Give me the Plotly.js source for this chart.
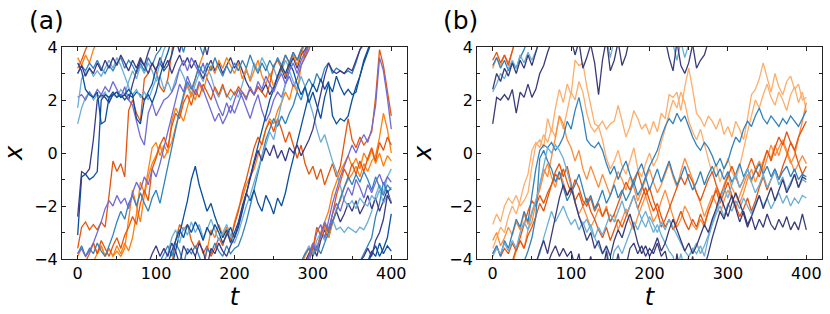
<!DOCTYPE html>
<html><head><meta charset="utf-8">
<script src="https://cdn.plot.ly/plotly-3.0.1.min.js"></script>
<style>html,body{margin:0;padding:0;background:#fff}</style>
</head><body><div id="chart" style="width:830px;height:314px"></div>
<script>
// time grid (t)
const T = [0,5,10,15,20,25,30,35,40,45,50,55,60,65,70,75,80,85,90,95,100,105,110,115,120,125,130,135,140,145,150,155,160,165,170,175,180,185,190,195,200,205,210,215,220,225,230,235,240,245,250,255,260,265,270,275,280,285,290,295,300,305,310,315,320,325,330,335,340,345,350,355,360,365,370,375,380,385,390,395,400];

// ---- panel (a): positions x read on the periodic interval [-4,4) ----
const a_orange1 = [3.6,3.3,3.7,3.4,3.9,-3.8,-3.5,-3.9,-3.6,-3.9, -3.5,-3.8,-3.4,-3.7,-3.2,-2.3,-1.1,-1.5,-0.6,0.2, 0.4,-0.1,0.3,0.0,1.2,1.7,1.4,2.1,2.6,2.2, 2.8,3.3,3.7,-3.7,-2.9,-3.2,-2.7,-3.1,-2.8,-3.3, -2.6,-2.1,-1.7,-1.2,-0.9,-0.6,-0.1,0.4,0.9,1.3, 1.1,1.6,1.9,2.3,2.0,2.6,2.3,3.3,3.8,-3.8, -3.4,-3.7,-3.0,-2.6,-2.2,-1.5,-1.1,-0.7,-0.4,-0.1, -0.5,-0.2,-0.6,0.0,-0.3,0.1,-0.4,0.0,-0.5,-0.1, -0.3];
const a_red1 = [-3.6,-2.8,-2.6,-2.9,-2.7,-2.9,-2.6,-2.8,-1.6,-0.3, -0.7,-0.4,-0.9,1.6,2.0,1.5,1.2,2.8,3.0,3.4, 3.1,2.5,2.3,2.8,3.8,-3.3,-2.7,-2.9,-2.7,-3.3, -3.6,-3.3,-3.8,-3.5,-3.9,-3.6,-3.2,-3.5,-3.0,-3.3, -2.7,-2.2,-1.5,-1.0,-0.4,0.2,0.6,0.3,0.9,1.2, 0.8,1.3,0.9,0.4,0.8,0.3,-0.2,0.3,-0.4,-0.8, -0.5,-1.0,-0.6,-1.2,-0.8,-0.4,-0.9,-0.5,0.4,1.3, 0.5,0.2,0.6,0.3,0.5,0.8,2.1,3.9,3.3,2.3, 1.4];
const a_orange2 = [-3.9,-3.6,-3.9,-3.7,-3.4,-3.8,-3.5,-3.9,-3.6,-3.9, -3.7,-3.9,-3.6,-2.5,-1.4,-2.0,-2.6,-1.6,-0.9,-0.4, -0.1,0.3,-0.2,0.1,0.4,1.0,1.5,1.2,1.8,2.3, 2.0,2.6,2.3,2.9,3.3,3.0,3.5,3.2,3.6,3.3, 3.0,3.4,2.8,3.2,2.7,3.1,3.5,2.9,2.6,3.0, 2.5,2.8,3.3,2.9,3.4,3.7,3.3,3.8,-3.9,-3.6, -3.9,-3.5,-3.2,-2.8,-3.2,-2.6,-2.1,-1.8,-1.3,-1.0, -0.8,-0.5,-0.9,-0.4,-0.7,-0.3,-0.1,0.6,1.5,0.9, 0.0];
const a_red2 = [3.2,3.5,3.9,-3.8,-3.4,-3.8,-3.3,-3.6,-3.9,-3.5, -3.2,-3.6,-3.1,-2.8,-2.4,-2.7,-1.9,-1.4,-1.8,-0.6, -0.2,0.3,0.6,0.2,1.0,1.5,1.3,1.9,2.2,1.8, 2.4,2.1,2.6,2.3,2.0,2.5,2.2,2.6,2.1,2.4, 2.2,2.5,2.3,2.1,2.4,2.2,2.5,2.3,2.1,2.6, 3.3,3.5,3.2,3.7,3.4,3.8,3.5,3.9,3.6,-3.9, -3.6,-2.8,-3.1,-2.7,-3.0,-2.3,-1.6,-1.1,-0.6,-0.9, -0.4,-0.8,-0.3,-0.7,-0.2,0.2,-0.3,0.4,0.1,0.6, 0.3];
const a_light1 = [1.1,1.7,2.1,2.3,2.0,2.2,2.1,2.3,2.0,2.2, 2.1,2.4,2.2,2.7,3.1,2.8,3.3,3.0,3.4,3.1, 2.7,2.9,2.4,2.7,2.3,2.8,3.2,2.9,2.5,2.1, 2.6,3.0,2.7,3.2,2.9,2.4,2.1,2.5,2.2,2.0, 2.3,2.1,2.6,3.1,2.8,3.4,3.1,3.6,3.3,2.9, 3.2,2.8,3.1,3.5,3.2,3.6,3.3,3.8,-3.8,-3.5, -3.8,-3.3,-3.0,-3.3,-2.8,-2.5,-2.9,-2.8,-3.0,-2.8, -2.9,-3.0,-2.8,-2.9,-2.6,-2.2,-1.6,-1.2,-1.5,-0.9, -0.6];
const a_light2 = [1.7,2.8,3.0,3.2,2.9,3.1,2.9,3.2,3.5,3.2, 3.6,3.3,2.9,2.5,2.2,2.4,2.1,2.3,2.0,2.4, 2.8,3.4,3.9,-3.8,-3.2,-2.9,-3.4,-2.8,-3.1,-2.6, -3.0,-2.7,-3.2,-2.9,-2.5,-2.9,-3.3,-3.0,-2.7,-3.1, -3.4,-3.0,-2.5,-2.0,-1.6,-1.1,-0.6,-0.1,0.3,0.8, 0.5,1.2,1.8,2.6,3.1,2.7,2.4,2.9,2.5,2.0, 1.5,0.9,0.4,0.7,0.2,-0.3,-0.7,-1.3,-1.8,-2.0, -1.8,-2.1,-1.7,-1.9,-2.0,-1.6,-1.8,-1.4,-1.9,-1.6, -1.8];
const a_blue1 = [3.0,3.3,3.1,3.4,3.2,3.5,3.2,3.0,3.3,3.1, 3.4,3.6,3.2,3.5,3.3,3.0,3.4,3.1,3.6,3.3, 3.7,3.9,-3.8,-3.5,-3.9,-3.4,-3.7,3.8,-3.6,-3.8, -3.5,-3.9,3.7,-3.6,-3.8,-3.4,-3.7,-3.9,-3.5,-3.8, -3.6,-3.5,-3.1,-2.6,-2.0,-1.4,-0.8,-0.2,0.5,0.9, 1.3,1.0,1.4,1.1,1.5,1.8,2.3,2.0,2.5,2.8, 2.5,3.0,2.7,3.2,3.4,3.0,3.2,3.1,3.0,3.1, 3.0,3.4,3.9,-3.8,-3.5,-3.2,-2.4,-1.9,-1.1,-1.5, -1.3];
const a_blue2 = [-3.8,-3.5,-3.9,-3.6,-3.8,-3.4,-3.7,-3.9,-3.5,-3.1, -2.6,-2.2,-2.5,-1.9,-1.6,-2.0,-1.5,-1.9,-2.2,-1.7, -1.4,-1.9,-1.2,-0.5,0.3,1.0,1.6,2.2,2.7,2.4, 2.8,3.3,3.0,3.4,3.1,3.6,3.2,2.9,3.3,3.0, 3.4,3.1,3.5,3.2,3.7,3.3,3.0,3.4,3.1,3.5, 3.2,3.6,3.3,3.7,3.4,3.8,3.5,3.9,-3.8,-3.6, -3.9,-3.5,-3.8,-3.4,-3.0,-2.6,-2.2,-1.7,-1.3,-0.9, -1.2,-0.8,-1.1,-0.7,-1.0,-1.4,-0.9,-1.3,-1.6,-1.2, -1.4];
const a_dark1 = [-3.1,-0.9,-0.8,-1.0,-0.9,-0.7,2.0,2.2,2.1,2.3, 2.1,2.2,2.0,2.2,2.1,2.3,2.2,2.0,2.3,2.6, 3.2,3.4,3.1,3.3,3.7,-3.7,-3.1,-2.4,-1.8,-1.0, -0.5,-1.2,-1.7,-2.2,-1.9,-2.4,-2.8,-3.2,-2.9,-3.4, -3.0,-2.6,-2.0,-1.5,-1.8,-1.4,-1.9,-2.2,-1.6,-1.9, -2.3,-1.7,-2.0,-1.5,-0.8,-0.2,0.4,1.0,1.6,2.2, 2.6,2.3,2.8,2.4,2.7,1.4,1.1,1.3,1.2,1.4, 2.0,2.5,2.9,3.4,3.8,-3.8,-3.5,-3.9,-3.6,-3.2, -2.3];
const a_dark2 = [3.4,3.1,2.4,2.2,2.1,2.3,1.1,1.2,2.1,2.2, 2.3,2.1,2.2,2.4,2.2,1.3,1.1,2.0,2.2,1.9, 2.3,2.9,3.4,3.8,-3.7,-3.3,-2.9,-3.2,-2.7,-3.0, -2.6,-2.9,-3.3,-2.8,-3.1,-2.7,-3.0,-3.4,-3.1,-2.8, -3.2,-2.8,-2.2,-1.5,-0.9,-0.3,0.3,0.9,1.4,2.0, 2.4,2.9,3.3,3.0,3.4,3.1,2.6,2.2,2.5,1.9, 2.3,1.8,1.3,2.1,2.6,2.3,2.9,2.5,2.2,2.4, 2.2,2.3,2.9,3.5,3.9,-3.7,-3.9,-3.4,-3.8,-3.5, -3.7];
const a_indigo1 = [-2.4,-0.7,-0.8,-0.6,0.5,2.0,2.2,2.1,1.9,2.2, 2.3,2.1,2.2,2.0,2.6,3.1,3.5,3.3,3.0,3.4, 3.1,3.6,3.2,3.5,3.0,3.4,3.7,3.3,3.6,3.2, 3.5,3.1,2.8,3.2,3.5,3.1,3.4,3.0,3.3,3.6, 3.2,3.5,3.1,2.7,2.4,2.2,2.5,2.3,2.6,2.2, 2.5,2.9,3.2,2.8,3.3,3.6,3.2,3.7,3.9,-3.8, -3.5,-3.9,-3.3,-2.9,-3.2,-2.6,-2.2,-2.6,-2.3,-1.9, -2.2,-1.8,-2.3,-2.0,-1.6,-2.1,-1.7,-2.2,-1.8,-1.4, -1.9];
const a_indigo2 = [3.0,3.3,2.9,3.2,3.0,3.4,3.1,3.5,3.2,3.6, 3.3,3.7,3.4,3.1,3.5,3.2,3.6,3.3,3.8,-3.8, -3.5,-3.9,-3.6,-3.9,-3.4,-3.7,3.8,-3.5,-3.8,-3.6, -3.9,-3.4,-3.7,3.7,-3.6,-3.8,-3.4,-3.7,-3.9,-3.5, -3.2,-2.7,-2.1,-1.6,-1.0,-0.4,0.1,-0.3,0.2,-0.1, 0.3,-0.2,0.1,-0.3,0.2,0.0,0.3,-0.1,0.2,0.5, 0.9,1.6,2.3,2.9,3.4,3.1,3.0,3.1,3.0,3.2, 3.1,3.5,3.9,-3.9,-3.6,-3.9,-3.3,-3.0,-2.5,-1.6, -1.9];
const a_purple1 = [2.1,2.2,2.0,2.3,2.1,2.4,2.2,2.5,2.3,2.7, 2.4,2.1,2.5,2.0,1.8,1.2,0.6,0.3,1.5,1.9, 1.4,1.7,2.0,2.1,2.3,2.6,3.2,3.5,3.1,3.6, 3.3,3.0,3.4,2.8,2.5,2.1,1.7,1.4,1.9,1.5, 2.0,2.4,2.1,1.7,1.3,1.8,2.2,1.6,1.2,1.5, 2.0,2.3,2.1,2.6,2.9,2.5,2.8,3.3,3.6,3.9, -3.6,-3.0,-2.7,-3.2,-2.5,-1.9,-1.4,-0.9,-0.5,-0.1, 0.3,0.0,0.4,0.7,0.4,0.9,1.8,3.6,3.1,2.1, 0.9];
const a_purple2 = [-3.8,-3.6,-3.9,-3.7,-3.4,-3.0,-2.6,-2.1,-1.8,-2.0, -1.6,-1.9,-1.7,-2.1,-1.5,-1.1,-1.4,-0.9,-1.2,-0.6, -0.9,-0.4,0.2,0.9,1.5,2.1,2.6,2.3,2.9,2.5, 2.2,2.7,2.4,2.0,1.6,1.2,1.5,1.1,1.4,1.8, 1.5,1.9,2.3,2.0,2.5,2.2,2.7,2.4,2.9,2.6, 2.3,2.7,3.0,2.6,3.1,3.4,3.0,3.5,3.8,-3.9, -3.4,-3.7,-3.1,-2.6,-2.9,-2.3,-1.9,-2.2,-1.7,-1.3, -1.6,-1.0,-1.3,-1.7,-1.2,-1.5,-1.1,-0.8,-1.2,-0.9, -1.1];

// ---- panel (b) ----
const b_pale1 = [-2.7,-2.3,-2.6,-2.0,-1.7,-1.9,-1.6,-2.0,-1.8,-1.5, -0.5,0.3,0.5,0.2,1.3,0.8,1.7,2.4,1.9,2.6, 2.2,3.5,3.3,3.4,2.5,1.8,1.1,1.0,1.2,0.9, 1.1,1.2,1.8,1.2,0.6,1.0,1.6,1.3,0.9,1.1, 0.7,1.2,0.8,1.5,1.3,2.2,2.1,2.3,1.6,2.5, 3.2,2.4,1.5,1.3,1.0,1.4,1.2,0.9,1.3,0.7, 1.0,0.6,1.2,0.9,0.5,1.3,2.2,2.4,2.8,3.4, 2.8,2.3,3.0,2.5,2.2,2.7,2.9,2.4,2.6,2.0, 2.1];
const b_pale2 = [-3.6,-3.2,-2.8,-3.0,-2.4,-2.0,-2.3,-1.8,-1.2,-0.8, 0.1,0.4,0.2,0.7,0.4,0.9,0.6,1.4,0.9,1.6, 2.3,2.0,2.7,2.3,1.5,1.0,0.8,1.0,0.5,-0.2, -0.6,-0.3,0.1,-0.5,-0.8,-0.3,0.2,-0.6,-0.9,-0.4, 0.0,-0.5,-0.2,0.4,0.9,1.5,2.0,1.7,2.3,1.9, 1.2,0.8,0.5,0.9,0.3,-0.3,-0.8,-0.4,-1.1,-0.6, -0.2,-0.7,-1.0,-0.5,0.2,0.8,1.4,2.0,1.7,2.2, 2.6,2.1,1.8,2.3,2.0,1.6,2.2,2.5,1.9,2.3, 1.6];
const b_orange1 = [3.2,3.6,3.3,3.7,3.4,3.8,-3.7,-3.3,-3.6,-2.9, -2.6,-1.9,-1.2,-0.6,-0.9,-0.2,0.6,1.4,1.1,0.5, 0.2,-0.3,0.1,-0.6,-1.0,-0.5,-0.9,-1.3,-0.8,-1.2, -1.6,-1.1,-0.7,-1.0,-1.4,-0.9,-1.3,-1.8,-1.4,-1.0, -0.6,-1.1,-1.5,-1.2,-0.8,-0.4,-0.9,-1.3,-0.7,-0.2, -0.6,-1.0,-1.5,-1.9,-2.4,-2.0,-1.6,-1.9,-2.3,-1.8, -1.4,-1.7,-2.1,-1.6,-1.2,-0.8,-1.1,-0.6,-0.3,-0.7, -0.2,0.3,-0.1,0.2,0.5,0.1,-0.3,-0.7,-0.4,-0.1, -0.4];
const b_orange2 = [-3.3,-3.0,-3.5,-3.2,-2.8,-3.1,-2.6,-2.9,-2.3,-2.7, -2.2,-1.8,-1.4,-0.8,-0.4,-0.9,-1.3,-0.7,-1.1,-1.6, -1.2,-1.9,-2.3,-2.0,-2.4,-2.8,-2.5,-2.1,-2.4,-2.0, -2.6,-2.3,-2.9,-2.5,-2.1,-2.6,-2.9,-2.4,-2.0,-1.6, -2.1,-2.6,-2.3,-1.8,-1.4,-1.9,-2.4,-2.8,-2.5,-2.0, -2.3,-2.7,-2.9,-2.5,-2.8,-2.2,-1.8,-1.3,-1.7,-1.2, -0.8,-1.3,-1.6,-1.9,-1.5,-1.0,-0.6,-1.1,-0.7,-0.3, 0.1,-0.2,0.3,-0.1,0.4,0.0,-0.4,-0.1,0.5,1.2, 1.9];
const b_red1 = [3.5,3.8,3.4,3.7,3.3,3.9,-3.6,-3.2,-2.7,-2.2, -1.8,-2.0,-1.6,-1.9,-1.5,-1.2,-0.8,-1.0,-0.6,-1.1, -1.5,-1.0,-1.3,-1.8,-2.0,-1.7,-2.2,-1.9,-2.4,-2.1, -2.6,-2.3,-1.9,-1.5,-1.1,-1.4,-1.0,-0.7,-1.2,-1.6, -1.3,-1.8,-2.2,-2.8,-2.5,-2.1,-1.7,-1.3,-0.9,-1.2, -0.8,-1.1,-1.5,-1.8,-1.4,-1.0,-0.7,-1.2,-1.6,-1.3, -0.9,-0.5,-0.9,-1.3,-1.0,-0.6,-0.2,-0.6,-0.9,-0.4, 0.1,-0.3,0.2,0.6,0.3,0.8,0.4,0.1,0.6,0.9, 1.2];
const b_red2 = [-3.8,-3.5,-3.9,-3.6,-3.8,-3.4,-3.7,-3.3,-3.6,-3.1, -2.8,-2.4,-1.9,-2.2,-1.7,-1.2,-0.7,-0.4,-0.9,-0.5, -1.2,-1.8,-1.5,-2.0,-1.7,-2.2,-2.5,-2.9,-3.2,-2.8, -3.3,-2.9,-2.5,-2.8,-2.4,-2.0,-1.6,-2.1,-1.7,-1.3, -1.8,-2.2,-1.9,-2.4,-2.8,-2.5,-2.9,-2.6,-2.2,-2.6, -2.9,-2.5,-2.8,-2.3,-2.7,-2.2,-1.8,-1.4,-1.9,-1.5, -1.1,-1.6,-2.0,-2.4,-2.1,-1.7,-2.2,-1.8,-1.3,-0.9, -1.4,-1.0,-0.6,-1.0,-0.5,-0.1,0.4,0.1,-0.4,-0.8, -0.5];
const b_blue1 = [-3.8,-3.5,-3.9,-3.3,-3.6,-3.0,-2.5,-2.8,-2.2,-2.6, -1.5,-0.6,0.1,0.3,0.2,0.4,0.1,0.3,0.6,1.2, 0.9,1.6,2.1,1.4,0.5,0.3,0.2,0.4,0.1,-0.4, -0.8,-0.5,-1.0,-0.6,-0.3,-0.8,-1.2,-0.7,-0.4,-0.9, -0.5,-0.2,0.1,0.6,1.0,1.3,1.1,1.5,1.2,1.4, 1.0,0.6,0.3,0.1,0.4,0.2,-0.1,-0.5,-0.2,-0.6, -0.3,0.2,0.6,0.4,0.9,1.2,1.0,1.4,1.7,1.3, 1.1,1.4,1.2,1.0,1.3,1.1,1.4,1.2,1.0,1.3, 1.6];
const b_blue2 = [3.3,3.6,3.2,3.5,3.1,3.4,3.2,3.6,3.9,-3.7, -3.2,-2.4,-0.2,0.1,-0.3,-0.6,-1.1,-0.7,-1.3,-1.8, -1.5,-1.2,-0.8,-1.4,-1.9,-1.6,-2.1,-1.8,-1.4,-1.9, -1.6,-1.2,-1.7,-1.4,-1.8,-1.5,-1.1,-1.6,-1.3,-0.9, -1.4,-1.0,-0.6,-1.1,-0.7,-0.3,-0.8,-1.2,-0.9,-0.5, -1.0,-1.4,-1.1,-0.7,-1.2,-0.8,-0.5,-0.9,-0.6,-1.0, -0.7,-1.1,-0.8,-0.4,-0.9,-0.6,-1.0,-0.7,-0.4,-0.8, -0.5,-0.9,-0.6,-1.0,-0.7,-0.5,-0.9,-0.6,-1.0,-0.8, -0.9];
const b_light1 = [2.3,2.6,3.0,2.8,3.2,3.5,3.2,3.7,3.4,3.8, 3.5,3.9,-3.8,-3.2,-2.7,-2.2,-2.6,-2.3,-2.0,-2.4, -2.7,-2.5,-2.9,-2.6,-3.0,-2.7,-3.2,-3.5,-3.8,-3.6, 3.6,-3.7,-3.5,-3.8,-3.4,-3.0,-2.6,-2.9,-2.5,-2.8, -2.4,-2.7,-3.0,-2.6,-2.9,-2.5,-2.8,-3.1,-3.4,-3.7, -3.9,-3.6,-3.8,-3.5,-3.9,-3.2,-2.7,-2.3,-2.0,-2.4, -1.9,-2.2,-1.8,-2.1,-1.7,-2.0,-2.3,-1.9,-1.6,-2.0, -1.7,-2.1,-1.8,-1.5,-1.9,-1.6,-2.0,-1.7,-1.9,-1.6, -1.7];
const b_light2 = [-3.9,-3.6,-3.8,-3.4,-3.7,-3.3,-3.6,-3.0,-2.6,-2.9, -2.3,-1.8,-1.2,-0.5,0.2,0.0,0.3,0.1,-0.2,-0.7, -1.3,-1.9,-2.4,-2.7,-2.5,-2.9,-3.2,-2.8,-3.1,-2.7, -2.3,-2.6,-2.2,-1.8,-2.3,-2.0,-1.6,-2.1,-2.5,-2.2, -2.6,-3.0,-2.7,-3.1,-3.4,-3.7,-3.9,3.5,-3.8,3.6, -3.9,-3.7,-3.4,-3.8,-3.5,-3.1,-2.6,-2.2,-1.8,-1.3, -1.7,-1.2,-0.8,-1.3,-1.0,-0.6,-1.1,-1.5,-1.2,-0.8, -1.3,-1.0,-0.7,-1.2,-0.9,-1.4,-1.1,-0.8,-1.3,-1.0, -1.1];
const b_navy1 = [1.1,2.1,2.0,2.2,2.0,2.4,1.5,2.3,2.1,2.6, 2.1,2.4,3.0,3.3,3.8,-3.8,-3.5,-3.9,-3.6,-3.9, -3.7,3.7,-3.8,3.2,3.6,-3.9,3.4,2.2,3.5,-3.7, 3.1,3.5,-3.8,3.3,3.7,-3.6,-3.4,-3.8,-3.5,-3.9, -3.6,-3.8,-3.4,-3.9,-3.7,3.6,3.1,-3.8,3.3,3.0, 3.4,-3.9,3.2,3.5,3.7,-3.8,-3.2,-2.7,-2.2,-2.5, -2.0,-1.6,-2.1,-2.6,-2.2,-2.7,-2.4,-2.9,-2.5,-2.8, -2.3,-2.7,-2.9,-2.5,-2.8,-2.4,-2.9,-2.6,-2.9,-2.3, -2.9];
const b_navy2 = [2.4,3.0,2.7,3.2,2.9,3.4,3.0,3.5,3.2,3.7, 3.3,3.8,-3.7,-3.3,-3.8,-3.1,-2.4,-1.7,-1.2,-1.6, -1.3,-1.9,-2.4,-2.8,-3.3,-3.0,-3.6,-3.3,-3.8,-3.5, -3.9,-3.3,-2.9,-3.2,-2.7,-2.3,-2.8,-3.4,-3.8,-3.5, -3.9,-3.6,-3.2,-3.7,-3.4,-2.9,-2.5,-2.9,-3.3,-3.7, -3.4,-3.8,-3.5,-3.1,-2.7,-3.0,-2.5,-2.1,-1.6,-2.0, -2.4,-1.9,-1.5,-1.9,-2.3,-2.8,-2.4,-2.0,-1.6,-2.1, -1.7,-1.3,-1.8,-1.4,-1.0,-1.5,-1.2,-0.8,-1.3,-0.9, -1.0];

const A_SERIES = [
  [a_orange1,'#ff7f0e'],[a_red1,'#e6550d'],[a_light1,'#6baed6'],[a_blue1,'#3182bd'],
  [a_dark1,'#0b4f9c'],[a_indigo1,'#3b3a86'],[a_purple1,'#6f6ad6'],
  [a_orange2,'#ff7f0e'],[a_red2,'#e6550d'],[a_light2,'#6baed6'],[a_blue2,'#3182bd'],
  [a_dark2,'#0b4f9c'],[a_indigo2,'#3b3a86'],[a_purple2,'#6f6ad6']
];
const B_SERIES = [
  [b_pale1,'#fdae6b'],[b_pale2,'#fdae6b'],[b_orange1,'#fd8d3c'],[b_orange2,'#fd8d3c'],
  [b_red1,'#e6550d'],[b_red2,'#e6550d'],[b_blue1,'#3182bd'],[b_blue2,'#3182bd'],
  [b_light1,'#6baed6'],[b_light2,'#6baed6'],[b_navy1,'#393b79'],[b_navy2,'#393b79']
];

// periodic domain: a jump larger than half the period is a crossing of the
// boundary; that step is drawn on both sides (shifted by the period)
const L = 8;
function periodic(ts, ys){
  const xs=[], vs=[];
  for(let i=0;i<ys.length;i++){
    if(i>0){
      const d = ys[i]-ys[i-1];
      if(d < -L/2){ xs.push(ts[i],null,ts[i-1]); vs.push(ys[i]+L,null,ys[i-1]-L); }
      else if(d > L/2){ xs.push(ts[i],null,ts[i-1]); vs.push(ys[i]-L,null,ys[i-1]+L); }
    }
    xs.push(ts[i]); vs.push(ys[i]);
  }
  return {xs, vs};
}

const traces=[];
function addPanel(list, xa, ya){
  list.forEach(([ys,col],k)=>{
    if(ys.length!==T.length) throw new Error(xa+' series '+k+' length '+ys.length);
    const p = periodic(T, ys);
    traces.push({x:p.xs, y:p.vs, xaxis:xa, yaxis:ya, type:'scatter', mode:'lines',
      line:{color:col, width:1.3}, connectgaps:false, hoverinfo:'skip'});
  });
}
addPanel(A_SERIES,'x','y');
addPanel(B_SERIES,'x2','y2');

const axBase = {showgrid:false, zeroline:false, showline:true, linecolor:'#222', linewidth:1,
  mirror:'ticks', ticks:'inside', ticklen:4, tickwidth:1, tickcolor:'#222',
  tickfont:{family:'DejaVu Sans', size:16, color:'#000'}};
const xBase = Object.assign({}, axBase, {range:[-20,420], tick0:0, dtick:100,
  minor:{ticks:'inside', ticklen:3, dtick:50, tick0:0, tickcolor:'#222', showgrid:false},
  title:{text:'<i>t</i>', font:{family:'DejaVu Sans', size:24, color:'#000'}, standoff:0}});
const yBase = Object.assign({}, axBase, {range:[-4,4], tick0:-4, dtick:2,
  minor:{ticks:'inside', ticklen:3, dtick:1, tick0:0, tickcolor:'#222', showgrid:false},
  title:{text:'<i>x</i>', font:{family:'DejaVu Sans', size:24, color:'#000'}, standoff:10}});

const layout = {
  width:830, height:314, showlegend:false,
  margin:{l:62, r:8, t:47, b:55},
  paper_bgcolor:'#fff', plot_bgcolor:'#fff',
  font:{family:'DejaVu Sans', size:16, color:'#000'},
  xaxis:Object.assign({}, xBase, {domain:[0,0.4539], anchor:'y'}),
  yaxis:Object.assign({}, yBase, {anchor:'x'}),
  xaxis2:Object.assign({}, xBase, {domain:[0.5461,1], anchor:'y2'}),
  yaxis2:Object.assign({}, yBase, {anchor:'x2'}),
  annotations:[
    {text:'(a)', xref:'paper', yref:'paper', x:-0.0201, y:1.123, xanchor:'center', yanchor:'middle', showarrow:false, font:{family:'DejaVu Sans', size:25, color:'#000'}},
    {text:'(b)', xref:'paper', yref:'paper', x:0.5237, y:1.123, xanchor:'center', yanchor:'middle', showarrow:false, font:{family:'DejaVu Sans', size:25, color:'#000'}}
  ]
};
Plotly.newPlot('chart', traces, layout, {staticPlot:true, displayModeBar:false});
</script></body></html>
